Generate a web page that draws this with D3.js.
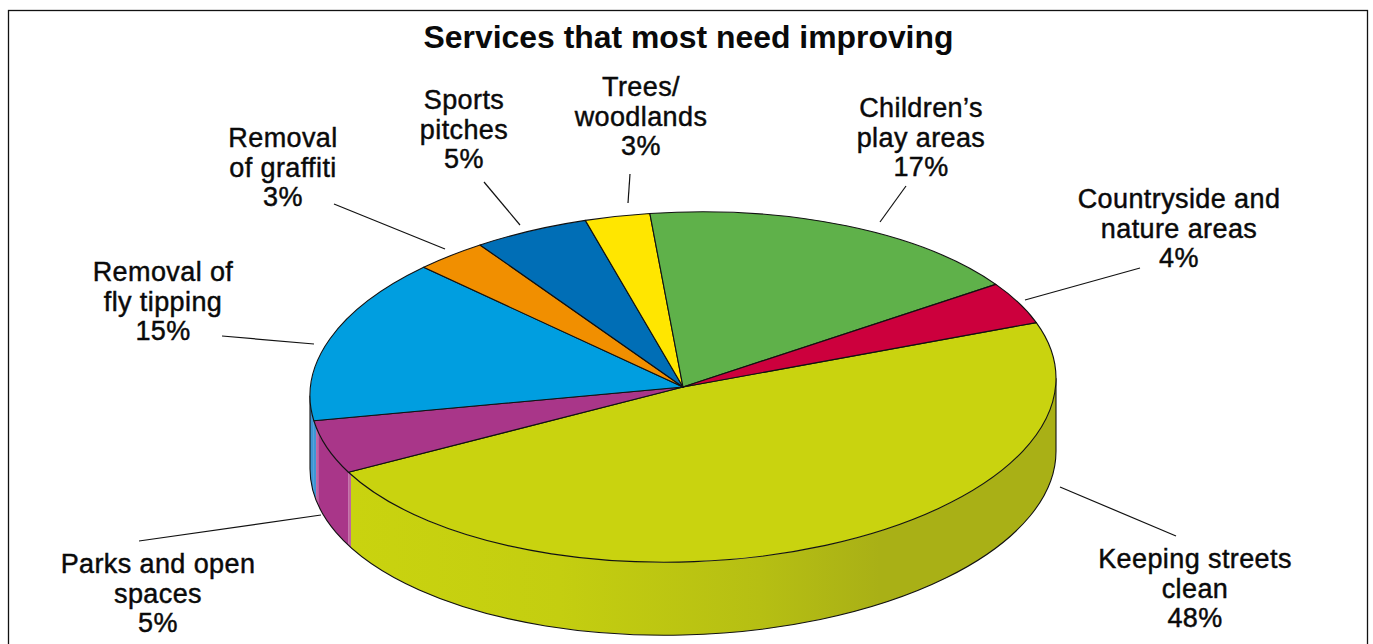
<!DOCTYPE html>
<html><head><meta charset="utf-8">
<script src="https://cdn.jsdelivr.net/npm/d3@7"></script>
<style>
html,body{margin:0;padding:0;background:#fff;overflow:hidden}
svg{display:block}
text{font-family:"Liberation Sans",Arial,sans-serif;fill:#0a0a0a;text-anchor:middle}
</style></head><body>
<svg id="c" width="1373" height="644"></svg>
<script>
// ---- data (clockwise from the street-cleaning slice)
const categories = ["Keeping streets clean","Parks and open spaces","Removal of fly tipping","Removal of graffiti","Sports pitches","Trees/ woodlands","Children’s play areas","Countryside and nature areas"];
const shares = [47.9,5.0,15.05,3.08,4.94,2.8,17.25,3.97];
const labelLines = [["Keeping streets","clean"],["Parks and open","spaces"],["Removal of","fly tipping"],["Removal","of graffiti"],["Sports","pitches"],["Trees/","woodlands"],["Children’s","play areas"],["Countryside and","nature areas"]];
const topColours = ["#c9d30f","#a93689","#009ee0","#f18f00","#006eb6","#ffe600","#5fb14a","#cc003d"];
const title = "Services that most need improving";

// ---- layout (annotations only)
const W=1373,H=644, cx=683, cy=387, rx=373, ry=175, depth=73, tilt=0.0235;
const labelCentres = [[1195,568],[158,573],[163,281],[283,147],[464,109],[641,96],[921,117],[1179,208]];
const leaders = [[1060,487,1176,536],[139,541,321,515],[222,336,314,344],[334,204,445,249],[484,182,520,225],[630,174,628,203],[906,186,880,222],[1140,268,1025,300]];
const lineStep = 29.5;

const svg = d3.select("#c");
const x = d3.scaleLinear().domain([-1,1]).range([cx-rx,cx+rx]);
const y = d3.scaleLinear().domain([-1,1]).range([cy+ry,cy-ry]);
const px = a => x(Math.sin(a)), py = a => y(Math.cos(a));

const startAngle = (90-18.7)*Math.PI/180;
const pie = d3.pie().sort(null).value(d=>d).startAngle(startAngle).endAngle(startAngle+2*Math.PI);
const arcs = pie(shares);

// frame
svg.append("rect").attr("x",8.5).attr("y",10.5).attr("width",1359).attr("height",660)
  .attr("fill","#fff").attr("stroke","#111").attr("stroke-width",1.3);

// gradients for the rim
const defs = svg.append("defs");
function gradient(id,stops){
  const g = defs.append("linearGradient").attr("id",id).attr("gradientUnits","userSpaceOnUse")
    .attr("x1",x(-1)).attr("x2",x(1)).attr("y1",0).attr("y2",0);
  stops.forEach(([p,c])=>g.append("stop").attr("offset",(p-x(-1))/(2*rx)).attr("stop-color",c));
  return `url(#${id})`;
}
const rimFill = {
  0: gradient("rimA",[[348,"#c0669f"],[351,"#c0669f"],[351.1,"#c9d30f"],[560,"#c4ce10"],[760,"#b6bf13"],[880,"#a9b016"],[1056,"#a9b016"]]),
  1: gradient("rimB",[[314,"#3d96d6"],[316,"#3d96d6"],[316.1,"#c46ea8"],[319,"#b65aa0"],[319.1,"#a93689"],[351,"#a93689"]]),
  2: "#3d96d6"
};

// pie group: the reference ellipse is very slightly tilted, so shear y by x
const g = svg.append("g").attr("transform",`matrix(1,${-tilt},0,1,0,${tilt*cx})`);

// rim (visible front half only)
const front0 = Math.PI/2, front1 = 3*Math.PI/2;
function rimPath(a0,a1){
  const A=Math.max(a0,front0), B=Math.min(a1,front1);
  return `M${px(A)},${py(A)}A${rx},${ry} 0 0 1 ${px(B)},${py(B)}`+
         `L${px(B)},${py(B)+depth}A${rx},${ry} 0 0 0 ${px(A)},${py(A)+depth}Z`;
}
arcs.forEach((d,i)=>{
  if(d.endAngle>front0 && d.startAngle<front1){
    g.append("path").attr("d",rimPath(d.startAngle,d.endAngle)).attr("fill",rimFill[i]||topColours[i]).attr("stroke","none");
  }
});
// rim outline
g.append("path").attr("d",`M${x(1)},${cy}L${x(1)},${cy+depth}A${rx},${ry} 0 0 1 ${x(-1)},${cy+depth}L${x(-1)},${cy}`)
  .attr("fill","none").attr("stroke","#111").attr("stroke-width",1.1);

// top face
g.selectAll("path.top").data(arcs).join("path").attr("class","top")
  .attr("d",d=>{
    const large = d.endAngle-d.startAngle>Math.PI?1:0;
    return `M${cx},${cy}L${px(d.startAngle)},${py(d.startAngle)}A${rx},${ry} 0 ${large} 1 ${px(d.endAngle)},${py(d.endAngle)}Z`;
  })
  .attr("fill",(d,i)=>topColours[i]).attr("stroke","#111").attr("stroke-width",1.1).attr("stroke-linejoin","round");

// leaders
svg.selectAll("line.leader").data(leaders).join("line").attr("class","leader")
  .attr("x1",d=>d[0]).attr("y1",d=>d[1]).attr("x2",d=>d[2]).attr("y2",d=>d[3])
  .attr("stroke","#111").attr("stroke-width",1.2);

// labels
const pct = d3.format(".0f");
categories.forEach((c,i)=>{
  const [lx,ly]=labelCentres[i];
  const lines=[...labelLines[i],pct(shares[i])+"%"];
  const t=svg.append("text").attr("x",lx).attr("y",ly).attr("font-size",27)
    .style("letter-spacing","0.4px").style("stroke","#0a0a0a").style("stroke-width","0.45px");
  lines.forEach((l,j)=>t.append("tspan").attr("x",lx).attr("y",ly+j*lineStep).text(l));
});
svg.append("text").attr("x",688.5).attr("y",48).attr("font-size",31.9).attr("font-weight",700).text(title);
</script>
</body></html>
